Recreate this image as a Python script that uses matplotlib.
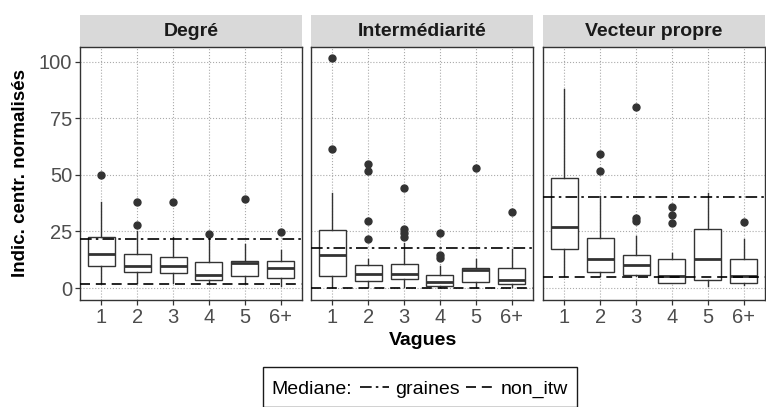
import matplotlib
matplotlib.use("Agg")
import matplotlib.pyplot as plt
from matplotlib.lines import Line2D
from matplotlib.patches import Rectangle
from matplotlib.offsetbox import HPacker, VPacker, DrawingArea

plt.rcParams['font.family'] = ['Liberation Sans', 'DejaVu Sans']

waves = ["1", "2", "3", "4", "5", "6+"]
panels = ["Degré", "Intermédiarité", "Vecteur propre"]

# boxplot stats per panel, one value per wave
q1 = [[9.8, 6.9, 6.5, 3.5, 5.4, 4.6],
      [5.5, 3.0, 4.0, 1.0, 2.7, 1.9],
      [17.3, 7.1, 5.8, 2.2, 3.7, 2.2]]
med = [[15.0, 9.7, 9.7, 5.7, 10.9, 9.0],
       [14.5, 6.2, 6.4, 2.5, 7.9, 3.4],
       [27.0, 12.6, 10.0, 5.2, 12.6, 5.2]]
q3 = [[22.4, 14.9, 13.8, 11.3, 11.9, 11.9],
      [25.5, 10.0, 10.8, 5.6, 8.9, 8.7],
      [48.6, 22.2, 14.5, 12.9, 26.2, 13.0]]
whis_lo = [[2.1, 2.0, 2.0, 2.2, 2.0, 1.0],
           [0.4, 0.4, 0.4, 0.4, 0.4, 0.4],
           [5.5, 5.5, 5.2, 2.2, 1.0, 1.5]]
whis_hi = [[38.2, 25.0, 22.5, 22.0, 19.4, 16.8],
           [42.2, 12.6, 20.0, 9.6, 12.9, 17.3],
           [87.9, 40.7, 23.0, 15.6, 42.2, 21.5]]
outliers = [[[49.8], [27.8, 38.0], [38.0], [23.8], [39.3], [24.9]],
            [[61.5, 101.5], [21.5, 29.6, 51.9, 54.8], [22.7, 24.4, 25.9, 44.4],
             [13.3, 14.8, 24.4], [53.0], [33.8]],
            [[], [51.9, 59.3], [29.6, 31.1, 80.0], [28.6, 32.1, 36.0], [], [29.3]]]

# reference medians drawn across each panel
med_graines = [21.7, 17.5, 40.3]
med_non_itw = [1.6, 0.0, 5.0]

W, H = 766, 407
fig = plt.figure(figsize=(W / 100, H / 100), dpi=100)

panel_left = [80, 311, 543]
panel_w = 222
panel_top, panel_bot = 47, 300
strip_top = 15

dashdot = (0, (7, 2.5, 1.5, 2.5))
dashed = (0, (6, 3.5))
dark = '#333333'

for i, name in enumerate(panels):
    ax = fig.add_axes([panel_left[i] / W, 1 - panel_bot / H,
                       panel_w / W, (panel_bot - panel_top) / H])
    stats = []
    for j in range(len(waves)):
        stats.append(dict(med=med[i][j], q1=q1[i][j], q3=q3[i][j],
                          whislo=whis_lo[i][j], whishi=whis_hi[i][j],
                          fliers=outliers[i][j]))
    ax.bxp(stats, positions=range(1, len(waves) + 1), widths=0.75,
           patch_artist=True, showcaps=False,
           boxprops=dict(facecolor='white', edgecolor=dark, linewidth=1.0),
           medianprops=dict(color=dark, linewidth=2.0),
           whiskerprops=dict(color=dark, linewidth=1.0),
           flierprops=dict(marker='o', markerfacecolor=dark, markeredgecolor=dark,
                           markersize=5))
    ax.axhline(med_graines[i], color='black', lw=1.2, ls=dashdot, zorder=5)
    ax.axhline(med_non_itw[i], color='black', lw=1.2, ls=dashed, zorder=5)

    ax.set_xlim(0.4, 6.6)
    ax.set_ylim(-5.3, 106.5)
    ax.set_xticks(range(1, len(waves) + 1))
    ax.set_xticklabels(waves)
    ax.set_yticks([0, 25, 50, 75, 100])
    ax.grid(True, ls=':', color='#AAAAAA', lw=0.8)
    ax.set_axisbelow(True)
    for sp in ax.spines.values():
        sp.set_color(dark)
        sp.set_linewidth(1.0)
    ax.tick_params(colors=dark, labelcolor='#4D4D4D', labelsize=14.5,
                   length=3.5, width=0.9, pad=2)
    if i > 0:
        ax.tick_params(axis='y', left=False, labelleft=False)

    # facet strip
    sh = (panel_top - strip_top) / (panel_bot - panel_top)
    ax.add_patch(Rectangle((0, 1), 1, sh, transform=ax.transAxes, clip_on=False,
                           facecolor='#D9D9D9', edgecolor='none', zorder=0))
    ax.text(0.5, 1 + sh / 2, name, transform=ax.transAxes, ha='center', va='center',
            fontsize=14, fontweight='bold', color='#1A1A1A')

fig.text(422.5 / W, 1 - 345 / H, "Vagues", ha='center', va='baseline',
         fontsize=14, fontweight='bold')
fig.text(21 / W, 1 - 173 / H, "Indic. centr. normalisés", rotation=90,
         ha='center', va='center', fontsize=13.5, fontweight='bold')

handles = [Line2D([], [], color='black', lw=1.2, ls=dashdot),
           Line2D([], [], color='black', lw=1.2, ls=dashed)]
leg = fig.legend(handles, ["graines", "non_itw"], title="Mediane:", ncol=2,
                 loc='upper left', bbox_to_anchor=(263 / W, 1 - 367 / H),
                 fontsize=14, title_fontsize=14, frameon=True, fancybox=False,
                 edgecolor='#1A1A1A', framealpha=1, borderpad=0.45,
                 handlelength=1.5, handletextpad=0.3, columnspacing=0.3,
                 borderaxespad=0)
leg.get_frame().set_linewidth(1.0)
# put the legend title on the same row as the keys, a bit lower in the frame
lb = leg._legend_box
row = HPacker(pad=0, sep=0.4 * 14, align='center',
              children=[leg._legend_title_box, leg._legend_handle_box])
new_box = VPacker(pad=0.45 * 14, sep=0, align='left',
                  children=[DrawingArea(1, 3.5), row])
new_box.set_figure(fig)
new_box.axes = lb.axes
leg._legend_box = new_box
leg._legend_box.set_offset(leg._findoffset)

fig.savefig("out.png", dpi=100)
